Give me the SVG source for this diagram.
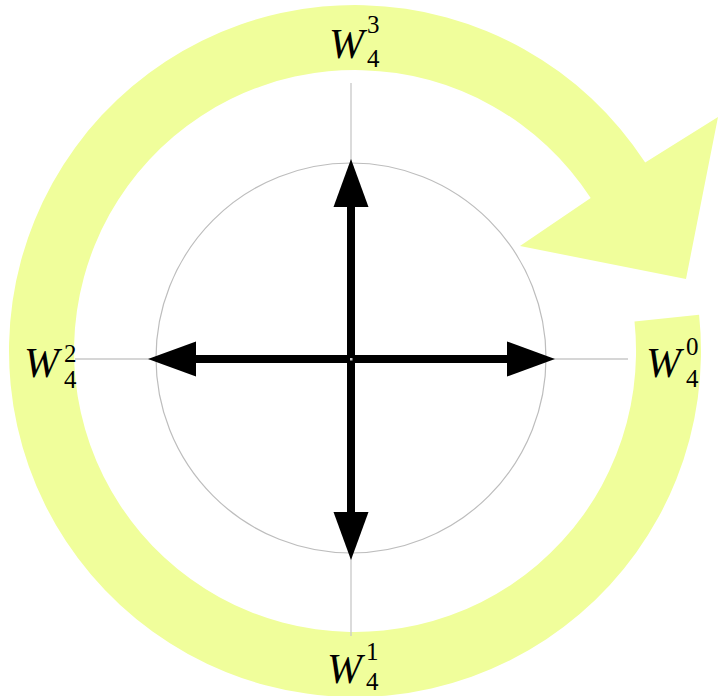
<svg xmlns="http://www.w3.org/2000/svg" width="718" height="696" viewBox="0 0 718 696">
<style>
.axis{stroke:#c8c8c8;stroke-width:1.3;fill:none}
.ring{stroke:#bdbdbd;stroke-width:1.2;fill:none}
.band{fill:#f0fe9b;stroke:none}
.vec{stroke:#000;stroke-width:8;fill:none;marker-end:url(#head)}
.W{font-family:"Liberation Serif","Times New Roman",serif;font-style:italic;font-size:42px;fill:#000}
.n{font-family:"Liberation Serif","Times New Roman",serif;font-size:25px;fill:#000}
</style>
<defs>
<marker id="head" markerUnits="userSpaceOnUse" markerWidth="48" markerHeight="36" refX="4" refY="17.5" orient="auto" overflow="visible">
<path d="M0 0 L48 17.5 L0 35 Z" fill="#000"/>
</marker>
</defs>
<g id="rotation-arrow">
<path class="band" d="M634.5 321.6 L699.1 314.8 A346 346 0 1 1 645.2 162.6 L718 117 L686 279 L520 246 L590.7 198 A281 281 0 1 0 634.5 321.6 Z"/>
</g>
<g id="axes">
<line class="axis" x1="75" y1="359" x2="628" y2="359"/>
<line class="axis" x1="351" y1="83" x2="351" y2="636"/>
<circle class="ring" cx="351" cy="358" r="195"/>
</g>
<g id="connectors">
<line class="vec" x1="351" y1="359" x2="351" y2="203"/>
<line class="vec" x1="351" y1="359" x2="351" y2="516"/>
<line class="vec" x1="351" y1="359" x2="192" y2="359"/>
<line class="vec" x1="351" y1="359" x2="511" y2="359"/>
<rect x="350" y="358" width="2.5" height="2.5" fill="#c8c8c8"/>
</g>
<g id="W0">
<text class="W" x="646" y="377">W</text>
<text class="n" x="686" y="355">0</text>
<text class="n" x="686" y="387">4</text>
</g>
<g id="W1">
<text class="W" x="327" y="683">W</text>
<text class="n" x="366" y="660">1</text>
<text class="n" x="366" y="690">4</text>
</g>
<g id="W2">
<text class="W" x="24" y="377">W</text>
<text class="n" x="64" y="362">2</text>
<text class="n" x="64" y="388">4</text>
</g>
<g id="W3">
<text class="W" x="329" y="58">W</text>
<text class="n" x="367" y="33">3</text>
<text class="n" x="367" y="67">4</text>
</g>
</svg>
